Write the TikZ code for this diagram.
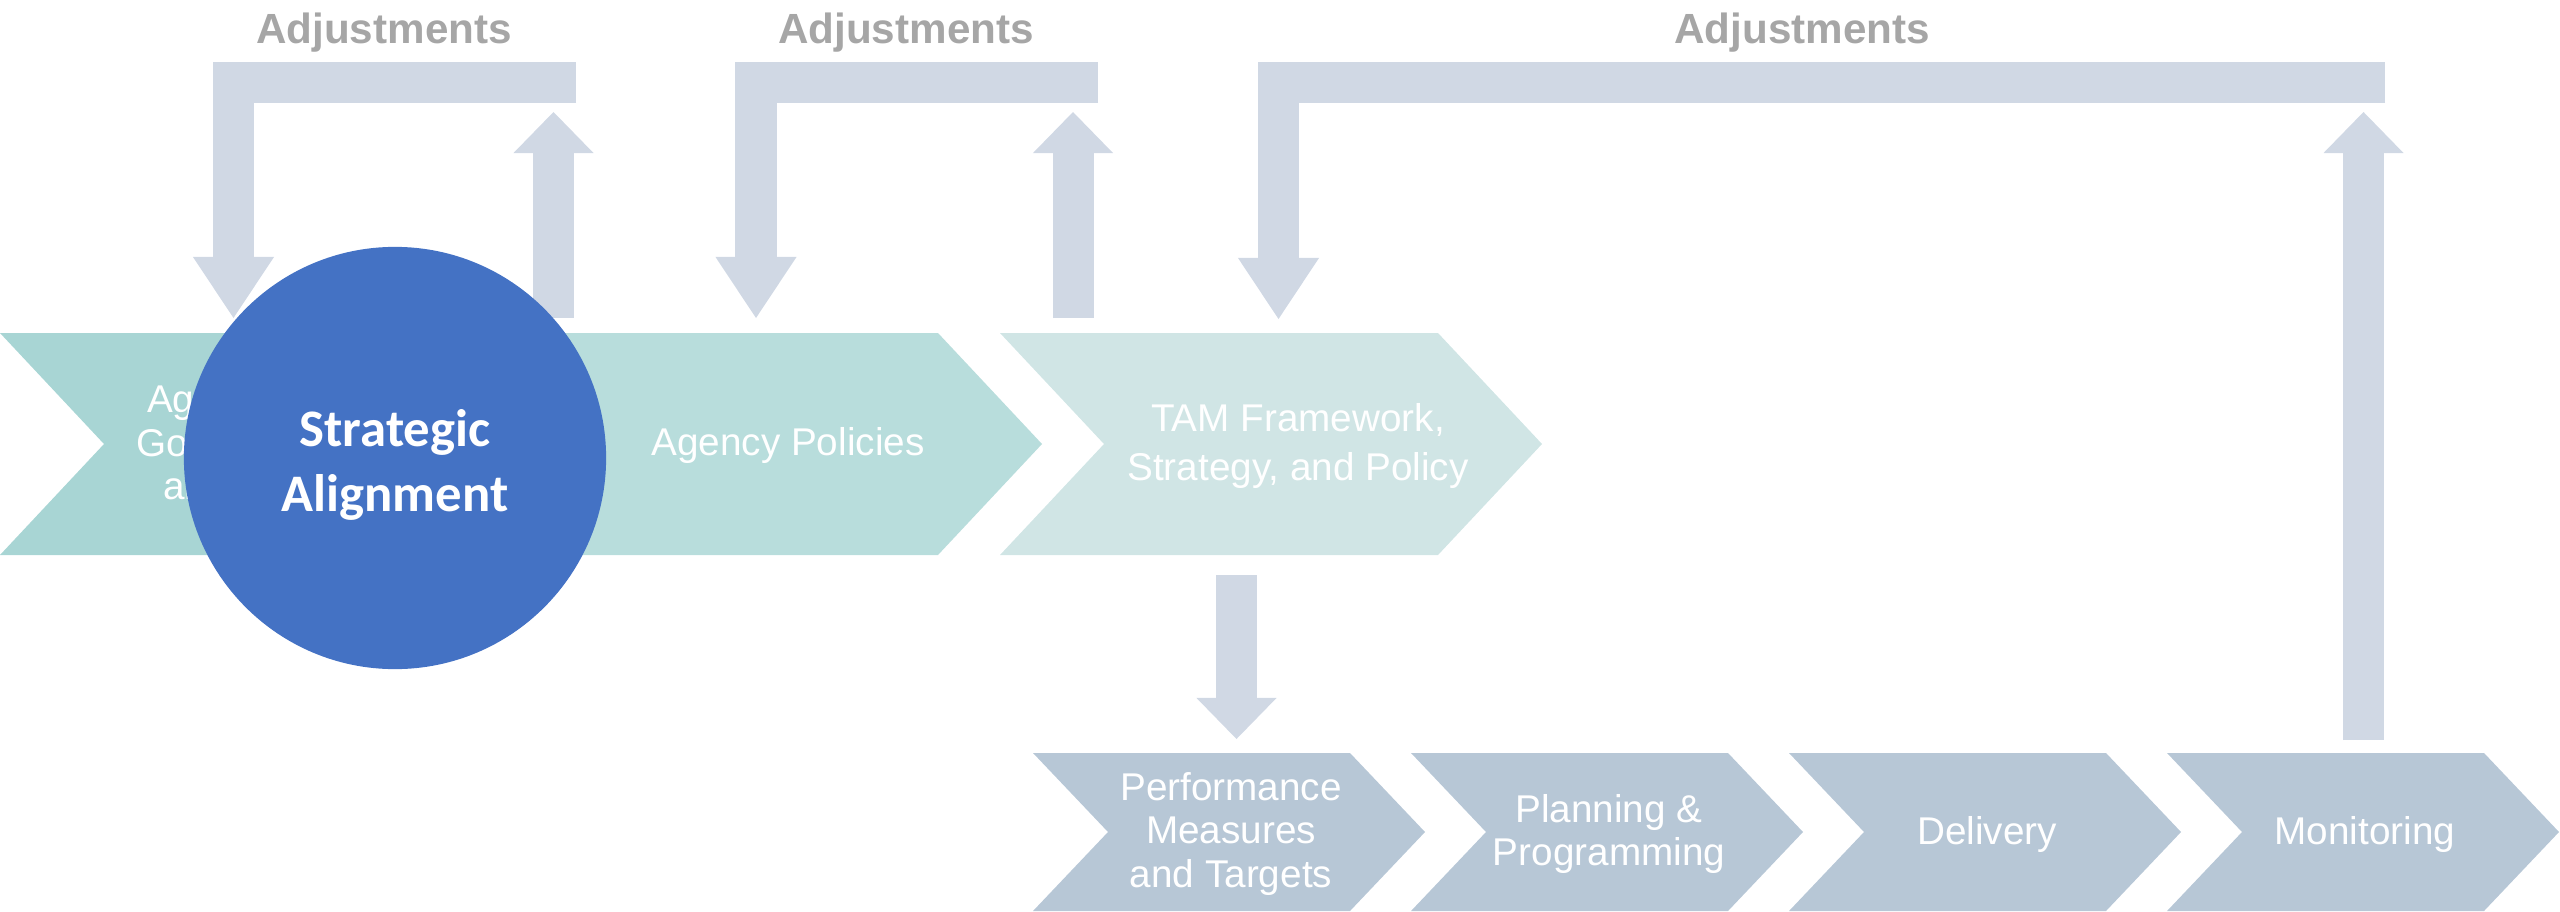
\documentclass[tikz,border=0pt]{standalone}
\usepackage{fontspec}
\setmainfont{Liberation Sans}
\newfontfamily\calfont{Carlito}
\usetikzlibrary{arrows.meta}

\definecolor{tealA}{HTML}{A8D5D4}
\definecolor{tealB}{HTML}{B8DDDC}
\definecolor{tealC}{HTML}{D0E5E5}
\definecolor{slate}{HTML}{B7C7D6}
\definecolor{loopgray}{HTML}{D0D8E4}
\definecolor{adjgray}{HTML}{A6A6A6}
\definecolor{alignblue}{HTML}{4472C4}

\begin{document}
\begin{tikzpicture}[x=0.01cm,y=-0.01cm,
  stage/.style={text=white,align=center,font=\fontsize{11}{12.3}\selectfont},
  adj/.style={text=adjgray,font=\bfseries\fontsize{12}{14}\selectfont},
  back/.style={draw=loopgray,line width=0.41cm,-{Triangle[width=0.81cm,length=0.61cm,line width=0pt]}},
  fwd/.style={draw=loopgray,line width=0.41cm,-{Triangle[width=0.80cm,length=0.41cm,line width=0pt]}}]
	\useasboundingbox (0,0) rectangle (2560,912);
	% top row
	\fill[tealA] (0,333) -- (438,333) -- (542,444) -- (438,555) -- (0,555) -- (104,444) -- cycle;
	\fill[tealB] (500,333) -- (938,333) -- (1042,444) -- (938,555) -- (500,555) -- (604,444) -- cycle;
	\fill[tealC] (1000,333) -- (1438,333) -- (1542,444) -- (1438,555) -- (1000,555) -- (1104,444) -- cycle;
	\node[stage] (G) at (288,446) {Agency Mission,\\Goals, Objectives\\and Strategies};
	\node[stage] (P) at (788,445) {Agency Policies};
	\node[stage,font=\fontsize{11}{13.7}\selectfont] (T) at (1298,446) {TAM Framework,\\Strategy, and Policy};
	% bottom row
	\foreach \x/\n/\t in {1033/M/{Performance\\Measures\\and Targets},1411/R/{Planning \&\\Programming},1789/D/{Delivery},2167/O/{Monitoring}}{
		\fill[slate] (\x,753) -- ++(317,0) -- ++(75,79) -- ++(-75,79) -- ++(-317,0) -- ++(75,-79) -- cycle;
		\node[stage] (\n) at (\x+198,834) {\t};
	}
	% adjustments
	\node[adj] (a1) at (384,33) {Adjustments};
	\node[adj] (a2) at (906,33) {Adjustments};
	\node[adj] (a3) at (1802,33) {Adjustments};
	\coordinate (b1) at (576,82.5);
	\coordinate (b2) at (1098,82.5);
	\coordinate (b3) at (2385,82.5);
	\coordinate (d1) at (233.5,318);
	\coordinate (d2) at (756,318);
	\coordinate (d3) at (1278.5,319);
	\coordinate (u1) at (553.5,318);
	\coordinate (u2) at (1073,318);
	\coordinate (u3) at (2363.5,740);
	\coordinate (v1) at (553.5,112);
	\coordinate (v2) at (1073,112);
	\coordinate (v3) at (2363.5,112);
	\draw[back] (b1) -| (d1);
	\draw[back] (b2) -| (d2);
	\draw[back] (b3) -| (d3);
	\draw[fwd] (u1) -- (v1);
	\draw[fwd] (u2) -- (v2);
	\draw[fwd] (u3) -- (v3);
	\coordinate (k1) at (1236.5,575);
	\coordinate (k2) at (1236.5,739);
	\draw[fwd] (k1) -- (k2);
	% strategic alignment
	\node[circle,fill=alignblue,minimum size=4.22cm,inner sep=0pt] (S) at (395,458) {};
	\node[text=white,align=center,font=\calfont\bfseries\fontsize{15}{18.5}\selectfont] (L) at (395,465) {Strategic\\Alignment};
\end{tikzpicture}
\end{document}
